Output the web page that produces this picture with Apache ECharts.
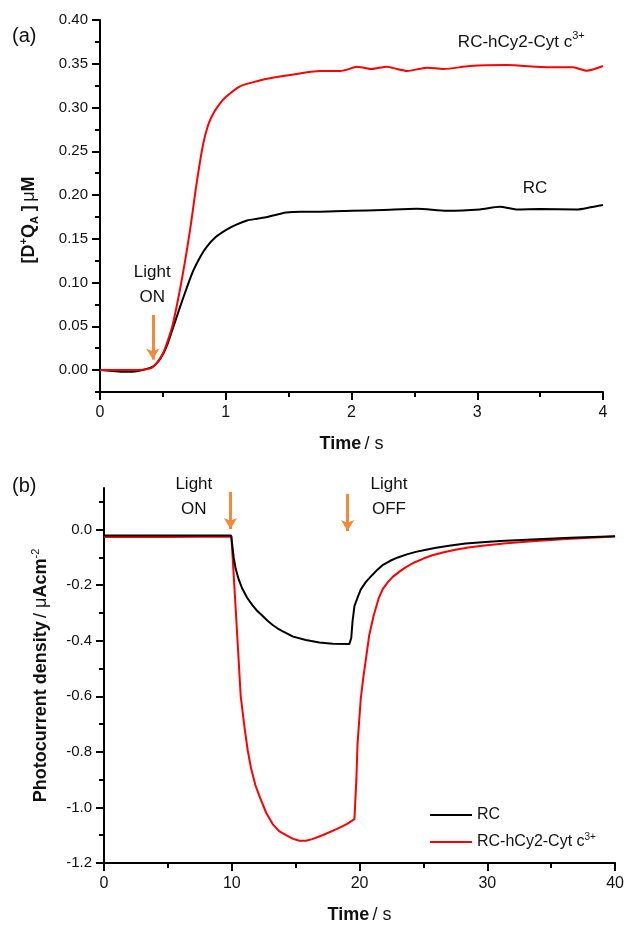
<!DOCTYPE html>
<html><head><meta charset="utf-8">
<script src="https://cdn.jsdelivr.net/npm/echarts@6/dist/echarts.min.js"></script>
<style>html,body{margin:0;padding:0;background:#fff}#c{width:627px;height:925px}</style>
</head><body><div id="c"></div><script>
// ---- Panel (a) data ----
const tA_rc  = [0, 0.1, 0.185, 0.3, 0.42, 0.48, 0.53, 0.58, 0.636, 0.69, 0.74, 0.8, 0.85, 0.92, 1.0, 1.08, 1.17, 1.25, 1.33, 1.48, 1.6, 1.75, 2.0, 2.25, 2.52, 2.76, 3.02, 3.18, 3.31, 3.5, 3.79, 3.9, 4.0];
const vA_rc  = [0, -0.001, -0.002, -0.001, 0.004, 0.013, 0.027, 0.048, 0.072, 0.094, 0.113, 0.13, 0.141, 0.152, 0.16, 0.166, 0.171, 0.173, 0.175, 0.180, 0.181, 0.181, 0.182, 0.183, 0.1843, 0.182, 0.1836, 0.1867, 0.1836, 0.184, 0.1836, 0.186, 0.1886];
const tA_cyt = [0, 0.265, 0.4, 0.45, 0.5, 0.54, 0.58, 0.65, 0.716, 0.77, 0.82, 0.86, 0.9, 0.95, 1.0, 1.11, 1.22, 1.33, 1.59, 1.75, 1.91, 1.97, 2.04, 2.1, 2.16, 2.28, 2.36, 2.44, 2.6, 2.73, 2.94, 3.23, 3.58, 3.76, 3.87, 4.0];
const vA_cyt = [0, 0, 0.002, 0.008, 0.019, 0.034, 0.053, 0.103, 0.16, 0.215, 0.258, 0.280, 0.293, 0.304, 0.312, 0.324, 0.329, 0.333, 0.339, 0.3417, 0.3417, 0.3435, 0.3467, 0.3455, 0.344, 0.3467, 0.344, 0.3417, 0.3455, 0.344, 0.3474, 0.3486, 0.346, 0.346, 0.342, 0.3474];
const yTicksA = [0, 0.05, 0.10, 0.15, 0.20, 0.25, 0.30, 0.35, 0.40];
const yMinorA = [-0.025, 0.025, 0.075, 0.125, 0.175, 0.225, 0.275, 0.325, 0.375];

// ---- Panel (b) data ----
const tB_rc  = [0, 5, 9.95, 10.05, 10.15, 10.3, 10.55, 10.8, 11.2, 11.6, 12.0, 12.4, 12.8, 13.2, 13.6, 14.0, 14.8, 15.8, 16.85, 17.9, 19.2, 19.35, 19.45, 19.6, 19.84, 20.1, 20.5, 21.0, 21.4, 21.8, 22.4, 23.0, 23.7, 24.4, 25.2, 26.0, 27.0, 28.3, 29.6, 31.0, 33.5, 36.5, 40];
const vB_rc  = [-0.021, -0.021, -0.021, -0.06, -0.1, -0.14, -0.18, -0.21, -0.245, -0.271, -0.293, -0.31, -0.328, -0.343, -0.356, -0.366, -0.385, -0.397, -0.406, -0.411, -0.412, -0.39, -0.331, -0.275, -0.245, -0.215, -0.188, -0.163, -0.144, -0.128, -0.112, -0.1, -0.089, -0.08, -0.072, -0.065, -0.058, -0.05, -0.045, -0.041, -0.035, -0.029, -0.024];
const tB_cyt = [0, 5, 9.97, 10.3, 10.7, 11.0, 11.25, 11.5, 11.85, 12.2, 12.7, 13.2, 13.7, 14.25, 14.8, 15.3, 15.8, 16.3, 17.1, 18.2, 19.0, 19.6, 19.75, 19.84, 20.1, 20.3, 20.5, 20.76, 21.1, 21.5, 21.8, 22.2, 22.6, 23.1, 23.6, 24.2, 25.0, 25.7, 26.6, 27.5, 28.5, 29.6, 31.5, 33.5, 36.5, 40];
const vB_cyt = [-0.026, -0.026, -0.025, -0.28, -0.6, -0.713, -0.795, -0.857, -0.92, -0.964, -1.02, -1.06, -1.085, -1.10, -1.113, -1.12, -1.12, -1.114, -1.10, -1.078, -1.06, -1.042, -0.9, -0.773, -0.606, -0.53, -0.465, -0.379, -0.31, -0.247, -0.215, -0.19, -0.17, -0.152, -0.136, -0.12, -0.104, -0.092, -0.081, -0.072, -0.064, -0.058, -0.049, -0.042, -0.033, -0.025];
const yTicksB = [-1.2, -1.0, -0.8, -0.6, -0.4, -0.2, 0.0];
const yMinorB = [-1.1, -0.9, -0.7, -0.5, -0.3, -0.1, 0.1];

const seriesNames = ['RC', 'RC-hCy2-Cyt c3+'];
const annotA = [{ t: 0.415, v: 0.097, text: 'Light\nON' }];
const arrowA = [{ t: 0.42, v0: 0.063, v1: 0.012 }];
const annotB = [{ t: 7.03, v: 0.12, text: 'Light\nON' }, { t: 22.3, v: 0.12, text: 'Light\nOFF' }];
const arrowB = [{ t: 9.9, v0: 0.136, v1: 0.002 }, { t: 19.06, v0: 0.129, v1: -0.005 }];

const pair = (xs, ys) => xs.map((x, i) => [x, ys[i]]);
const FONT = "'Liberation Sans', Arial, sans-serif";
const ORANGE = '#F08A3C';
const supRich = { sup: { fontSize: 10, verticalAlign: 'top', lineHeight: 20, fontFamily: FONT, color: '#111' } };

function yMain(gi, min, max, ticks, fmt, name, rich, gap, pad) {
  return {
    type: 'value', gridIndex: gi, min, max, position: 'left',
    axisLine: { show: true, onZero: false, lineStyle: { color: '#000', width: 2 } },
    splitLine: { show: false },
    axisTick: { show: true, inside: false, length: 8, lineStyle: { color: '#000', width: 2 }, customValues: ticks },
    axisLabel: { customValues: ticks, formatter: fmt, margin: 12, fontSize: 15, color: '#111', fontFamily: FONT },
    name, nameLocation: 'middle', nameGap: gap,
    nameTextStyle: { fontFamily: FONT, color: '#111', rich, padding: pad }
  };
}
function yMinor(gi, min, max, ticks) {
  return {
    type: 'value', gridIndex: gi, min, max, position: 'left',
    axisLine: { show: false, onZero: false }, splitLine: { show: false }, axisLabel: { show: false },
    axisTick: { show: true, length: 5, lineStyle: { color: '#000', width: 2 }, customValues: ticks }
  };
}
function xMain(gi, min, max, interval, nameGap) {
  return {
    type: 'value', gridIndex: gi, min, max, interval,
    axisLine: { show: true, onZero: false, lineStyle: { color: '#000', width: 2 } },
    splitLine: { show: false },
    axisTick: { show: true, length: 8, lineStyle: { color: '#000', width: 2 } },
    minorTick: { show: true, splitNumber: 2, length: 5, lineStyle: { color: '#000', width: 2 } },
    minorSplitLine: { show: false },
    axisLabel: { margin: 13, fontSize: 16, color: '#111', fontFamily: FONT },
    name: '{b|Time} {n|/ s}', nameLocation: 'middle', nameGap,
    nameTextStyle: { rich: {
      b: { fontWeight: 'bold', fontSize: 18, fontFamily: FONT, color: '#111' },
      n: { fontSize: 18, fontFamily: FONT, color: '#111' } } }
  };
}
const nameRich = {
  b: { fontWeight: 'bold', fontSize: 18, lineHeight: 22, fontFamily: FONT, color: '#111' },
  n: { fontSize: 18, lineHeight: 22, fontFamily: FONT, color: '#111' },
  sup: { fontWeight: 'bold', fontSize: 11, lineHeight: 22, verticalAlign: 'top', fontFamily: FONT, color: '#111' },
  nsup: { fontSize: 11, lineHeight: 22, verticalAlign: 'top', fontFamily: FONT, color: '#111' },
  sub: { fontWeight: 'bold', fontSize: 11, lineHeight: 22, verticalAlign: 'bottom', fontFamily: FONT, color: '#111' }
};

function textMarks(list) {
  return {
    silent: true, symbol: 'circle', symbolSize: 1, itemStyle: { color: 'rgba(0,0,0,0)' },
    label: { show: true, position: 'inside', fontSize: 17, lineHeight: 25, color: '#111', fontFamily: FONT,
      formatter: p => p.name, rich: { sup: { fontSize: 11, verticalAlign: 'top', lineHeight: 20, fontFamily: FONT, color: '#111' } } },
    data: list.map(a => ({ name: a.text, coord: [a.t, a.v] }))
  };
}
function arrowMarks(list) {
  return {
    silent: true, symbol: ['none', 'arrow'], symbolSize: [10, 11], label: { show: false },
    lineStyle: { color: ORANGE, width: 3, type: 'solid' },
    data: list.map(a => [{ coord: [a.t, a.v0] }, { coord: [a.t, a.v1] }])
  };
}

const annotLabelsA = [
  { t: 3.35, v: 0.374, text: 'RC-hCy2-Cyt c{sup|3+}' },
  { t: 3.46, v: 0.208, text: 'RC' }
].concat(annotA);

const option = {
  animation: false,
  backgroundColor: '#fff',
  textStyle: { fontFamily: FONT },
  grid: [
    { left: 100, top: 20, width: 503, height: 372 },
    { left: 104, top: 488, width: 512, height: 378 }
  ],
  xAxis: [ xMain(0, 0, 4, 1, 43), xMain(1, 0, 40, 10, 43) ],
  yAxis: [
    yMain(0, -0.025, 0.40, yTicksA, v => v.toFixed(2), '{b|[D}{sup|+}{b|Q}{sub|A}{b| ]} {n|μ}{b|M}', nameRich, 60, [0, 28, 0, 0]),
    yMinor(0, -0.025, 0.40, yMinorA),
    yMain(1, -1.2, 0.15, yTicksB, v => v.toFixed(1), '{b|Photocurrent density} {n|/ μ}{b|Acm}{nsup|-2}', nameRich, 52, [0, 0, 0, 0]),
    yMinor(1, -1.2, 0.15, yMinorB)
  ],
  legend: {
    orient: 'vertical', left: 425, top: 802, itemWidth: 42, itemHeight: 2, itemGap: 9,
    icon: 'rect', data: seriesNames,
    formatter: n => n === 'RC' ? 'RC' : 'RC-hCy2-Cyt c{sup|3+}',
    textStyle: { fontSize: 16, color: '#111', fontFamily: FONT, rich: supRich }
  },
  graphic: [
    { type: 'text', left: 12, top: 26, style: { text: '(a)', font: "20px 'Liberation Sans', Arial, sans-serif", fill: '#111' } },
    { type: 'text', left: 12, top: 476, style: { text: '(b)', font: "20px 'Liberation Sans', Arial, sans-serif", fill: '#111' } }
  ],
  series: [
    { name: seriesNames[0], type: 'line', xAxisIndex: 0, yAxisIndex: 0, data: pair(tA_rc, vA_rc),
      showSymbol: false, symbol: 'none', smooth: 0.25, lineStyle: { color: '#000', width: 2 }, itemStyle: { color: '#000' }, z: 2,
      markPoint: textMarks(annotLabelsA), markLine: arrowMarks(arrowA) },
    { name: seriesNames[1], type: 'line', xAxisIndex: 0, yAxisIndex: 0, data: pair(tA_cyt, vA_cyt),
      showSymbol: false, symbol: 'none', smooth: 0.25, lineStyle: { color: '#FF0000', width: 2 }, itemStyle: { color: '#FF0000' }, z: 3 },
    { name: seriesNames[1], type: 'line', xAxisIndex: 1, yAxisIndex: 2, data: pair(tB_cyt, vB_cyt),
      showSymbol: false, symbol: 'none', smooth: false, lineStyle: { color: '#FF0000', width: 2 }, itemStyle: { color: '#FF0000' }, z: 2 },
    { name: seriesNames[0], type: 'line', xAxisIndex: 1, yAxisIndex: 2, data: pair(tB_rc, vB_rc),
      showSymbol: false, symbol: 'none', smooth: false, lineStyle: { color: '#000', width: 2 }, itemStyle: { color: '#000' }, z: 3,
      markPoint: textMarks(annotB), markLine: arrowMarks(arrowB) }
  ]
};
const chart = echarts.init(document.getElementById('c'), null, { renderer: 'canvas' });
chart.setOption(option);
</script></body></html>
